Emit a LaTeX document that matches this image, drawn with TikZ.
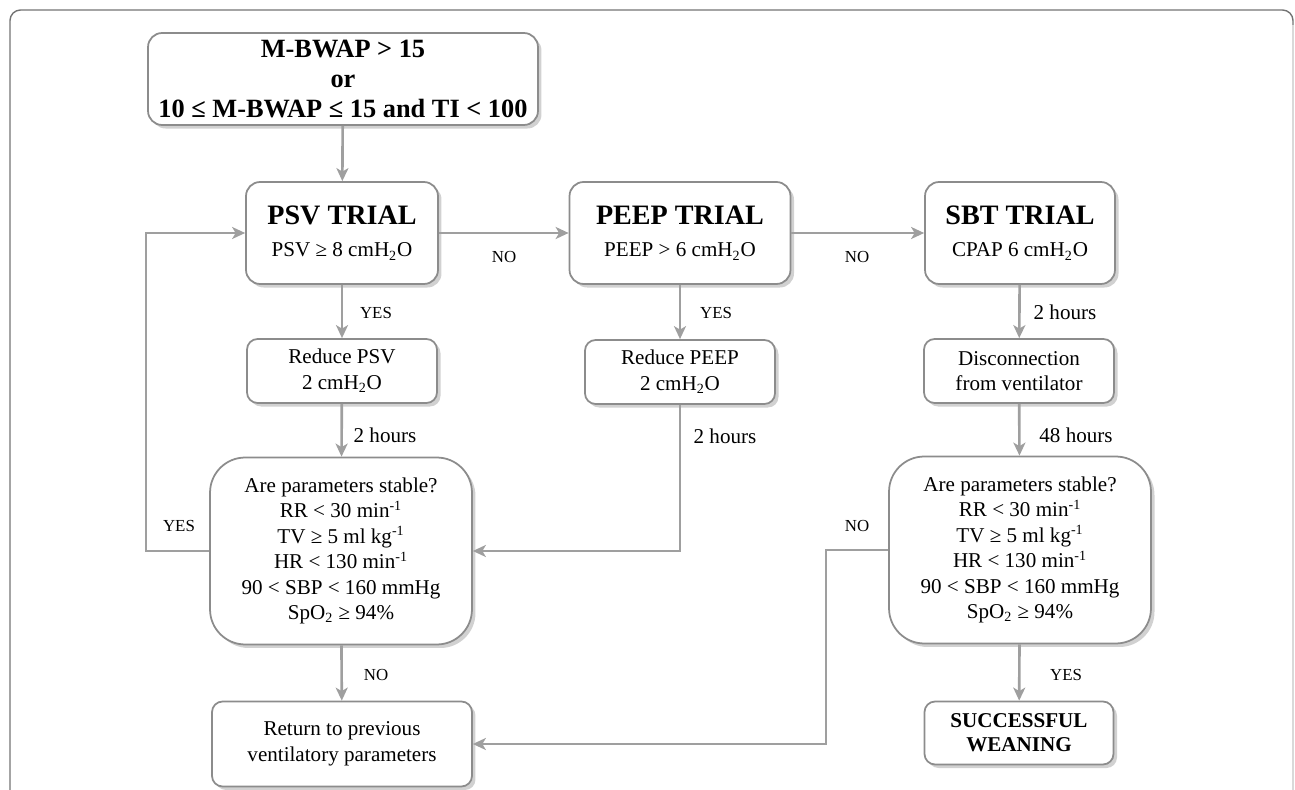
\documentclass[tikz,border=0pt]{standalone}
\usepackage{fontspec}
\setmainfont{Liberation Serif}
\usetikzlibrary{arrows.meta}
\usetikzlibrary{shadows}

\tikzset{
  box/.style={draw=gray!90, line width=1pt, fill=white, align=center, inner sep=0pt,
    font=\fontsize{12}{14.5}\selectfont,
    drop shadow={shadow xshift=2pt, shadow yshift=-2pt, opacity=0.3, fill=black!60}},
  trialbox/.style={box, rounded corners=8pt, minimum height=2.04cm},
  smallbox/.style={box, rounded corners=6pt, minimum width=3.8cm, minimum height=1.28cm},
  stabbox/.style={box, rounded corners=20pt, minimum width=5.24cm, minimum height=3.74cm},
  conn/.style={draw=gray!75, line width=1.5pt, -{Stealth[length=2.6mm, width=2.4mm, inset=0.7mm]}},
  lbl/.style={font=\fontsize{9.6}{11}\selectfont, inner sep=0pt},
  hrs/.style={font=\fontsize{12}{14}\selectfont, inner sep=0pt},
}

\begin{document}
\begin{tikzpicture}[x=0.02cm, y=-0.02cm]
    \useasboundingbox (0,0) rectangle (1295,790);

    % frame
    \draw[black!55, line width=0.8pt, rounded corners=6pt] (10,790) -- (10,10) -- (1293,10) -- (1293,30);
    \draw[black!15, line width=0.8pt] (1293,25) -- (1293,790);

    \def\stabletxt{Are parameters stable?\\ RR < 30 min\textsuperscript{-1}\\
        TV ≥ 5 ml kg\textsuperscript{-1}\\ HR < 130 min\textsuperscript{-1}\\
        90 < SBP < 160 mmHg\\ SpO\textsubscript{2} ≥ 94\%}

    \node[box, rounded corners=8pt, minimum width=7.8cm, minimum height=1.84cm,
        font=\fontsize{15}{16.8}\selectfont\bfseries] (start) at (343,79)
        {M-BWAP > 15\\ or\\ 10 ≤ M-BWAP ≤ 15 and TI < 100};

    \node[trialbox, minimum width=3.84cm] (psv) at (342,233)
        {{\fontsize{16}{18}\selectfont\bfseries PSV TRIAL}\\[4pt] PSV ≥ 8 cmH\textsubscript{2}O};
    \node[trialbox, minimum width=4.42cm] (peep) at (680,233)
        {{\fontsize{16}{18}\selectfont\bfseries PEEP TRIAL}\\[4pt] PEEP > 6 cmH\textsubscript{2}O};
    \node[trialbox, minimum width=3.8cm] (sbt) at (1020,233)
        {{\fontsize{16}{18}\selectfont\bfseries SBT TRIAL}\\[4pt] CPAP 6 cmH\textsubscript{2}O};

    \node[smallbox] (redpsv) at (342,371) {Reduce PSV\\ 2 cmH\textsubscript{2}O};
    \node[smallbox] (redpeep) at (680,372) {Reduce PEEP\\ 2 cmH\textsubscript{2}O};
    \node[smallbox] (disc) at (1019,371) {Disconnection\\ from ventilator};

    \node[stabbox] (stab1) at (341,551) {\stabletxt};
    \node[stabbox] (stab2) at (1020,550) {\stabletxt};

    \node[box, rounded corners=6pt, minimum width=5.2cm, minimum height=1.7cm] (ret) at (342,744)
        {Return to previous\\ ventilatory parameters};
    \node[smallbox, minimum width=3.78cm, minimum height=1.26cm, font=\fontsize{12}{13.7}\selectfont\bfseries]
        (succ) at (1019,733) {SUCCESSFUL\\ WEANING};

    \draw[conn] (start) -- (psv);
    \draw[conn] (psv) -- (peep);
    \draw[conn] (peep) -- (sbt);
    \draw[conn] (psv) -- (redpsv);
    \draw[conn] (peep) -- (redpeep);
    \draw[conn] (sbt) -- (disc);
    \draw[conn] (redpsv) -- (stab1);
    \draw[conn] (disc) -- (stab2);
    \draw[conn] (redpeep.south) |- (stab1.east);
    \draw[conn] (stab1.west) -- ++(-63,0) |- (psv.west);
    \draw[conn] (stab1) -- (ret);
    \draw[conn] (stab2) -- (succ);
    \draw[conn] (stab2.west) -- ++(-62,0) |- (ret.east);

    \node[lbl] (no1) at (504,257) {NO};
    \node[lbl] (no2) at (857,257) {NO};
    \node[lbl] (yes1) at (376,313) {YES};
    \node[lbl] (yes2) at (716,313) {YES};
    \node[hrs] (h1) at (385,435) {2 hours};
    \node[hrs] (h2) at (725,436) {2 hours};
    \node[hrs] (h3) at (1065,312) {2 hours};
    \node[hrs] (h4) at (1076,435) {48 hours};
    \node[lbl] (yes3) at (179,526) {YES};
    \node[lbl] (no3) at (857,526) {NO};
    \node[lbl] (no4) at (376,675) {NO};
    \node[lbl] (yes4) at (1066,675) {YES};
\end{tikzpicture}
\end{document}
